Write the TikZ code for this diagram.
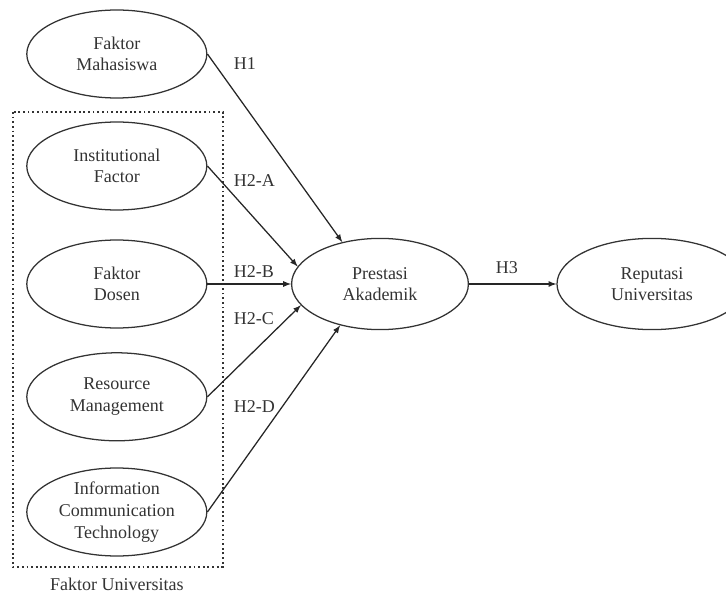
\documentclass[tikz,border=0pt]{standalone}
\usepackage{fontspec}
\setmainfont{Liberation Serif}
\usetikzlibrary{shapes.geometric}
\begin{document}
\begin{tikzpicture}[
		font=\fontsize{12.8}{15.4}\selectfont,
		text=black!80,
		line width=0.9pt,
		var/.style={draw=black!80, ellipse, align=center, inner sep=0pt,
			minimum width=4.5cm, minimum height=2.2cm},
		hyp/.style={anchor=west, inner sep=0pt}
	]
		\useasboundingbox (0,0) rectangle (18.15,-14.9);
		% left side
		\node[var] at (2.92,-1.35)(mhs){Faktor\\Mahasiswa};
		\node[var] at (2.92,-4.15)(inst){Institutional\\Factor};
		\node[var] at (2.92,-7.1)(dosen){Faktor\\Dosen};
		\node[var] at (2.92,-9.92)(res){Resource\\Management};
		\node[var] at (2.92,-12.8)(ict){Information\\Communication\\Technology};
		\draw[dotted, line width=1.3pt, black!80] (0.32,-2.8) rectangle (5.57,-14.17);
		\node at (2.92,-14.62)(univ){Faktor Universitas};
		% right side
		\node[var, minimum width=4.42cm, minimum height=2.28cm] at (9.5,-7.1)(pres){Prestasi\\Akademik};
		\node[var, minimum width=4.75cm, minimum height=2.28cm] at (16.3,-7.1)(rep){Reputasi\\Universitas};
		% paths
		\path[-latex, black!85]
			(mhs.east) edge (pres.132)
			(inst.east) edge (pres.168)
			(dosen.east) edge (pres.west)
			(res.east) edge (pres.195)
			(ict.east) edge (pres.226)
			(pres.east) edge (rep.west);
		\node[hyp] at (5.83,-1.6)(h1){H1};
		\node[hyp] at (5.83,-4.52)(h2a){H2-A};
		\node[hyp] at (5.83,-6.8)(h2b){H2-B};
		\node[hyp] at (5.83,-7.97)(h2c){H2-C};
		\node[hyp] at (5.83,-10.17)(h2d){H2-D};
		\node at (12.67,-6.7)(h3){H3};
	\end{tikzpicture}
\end{document}
